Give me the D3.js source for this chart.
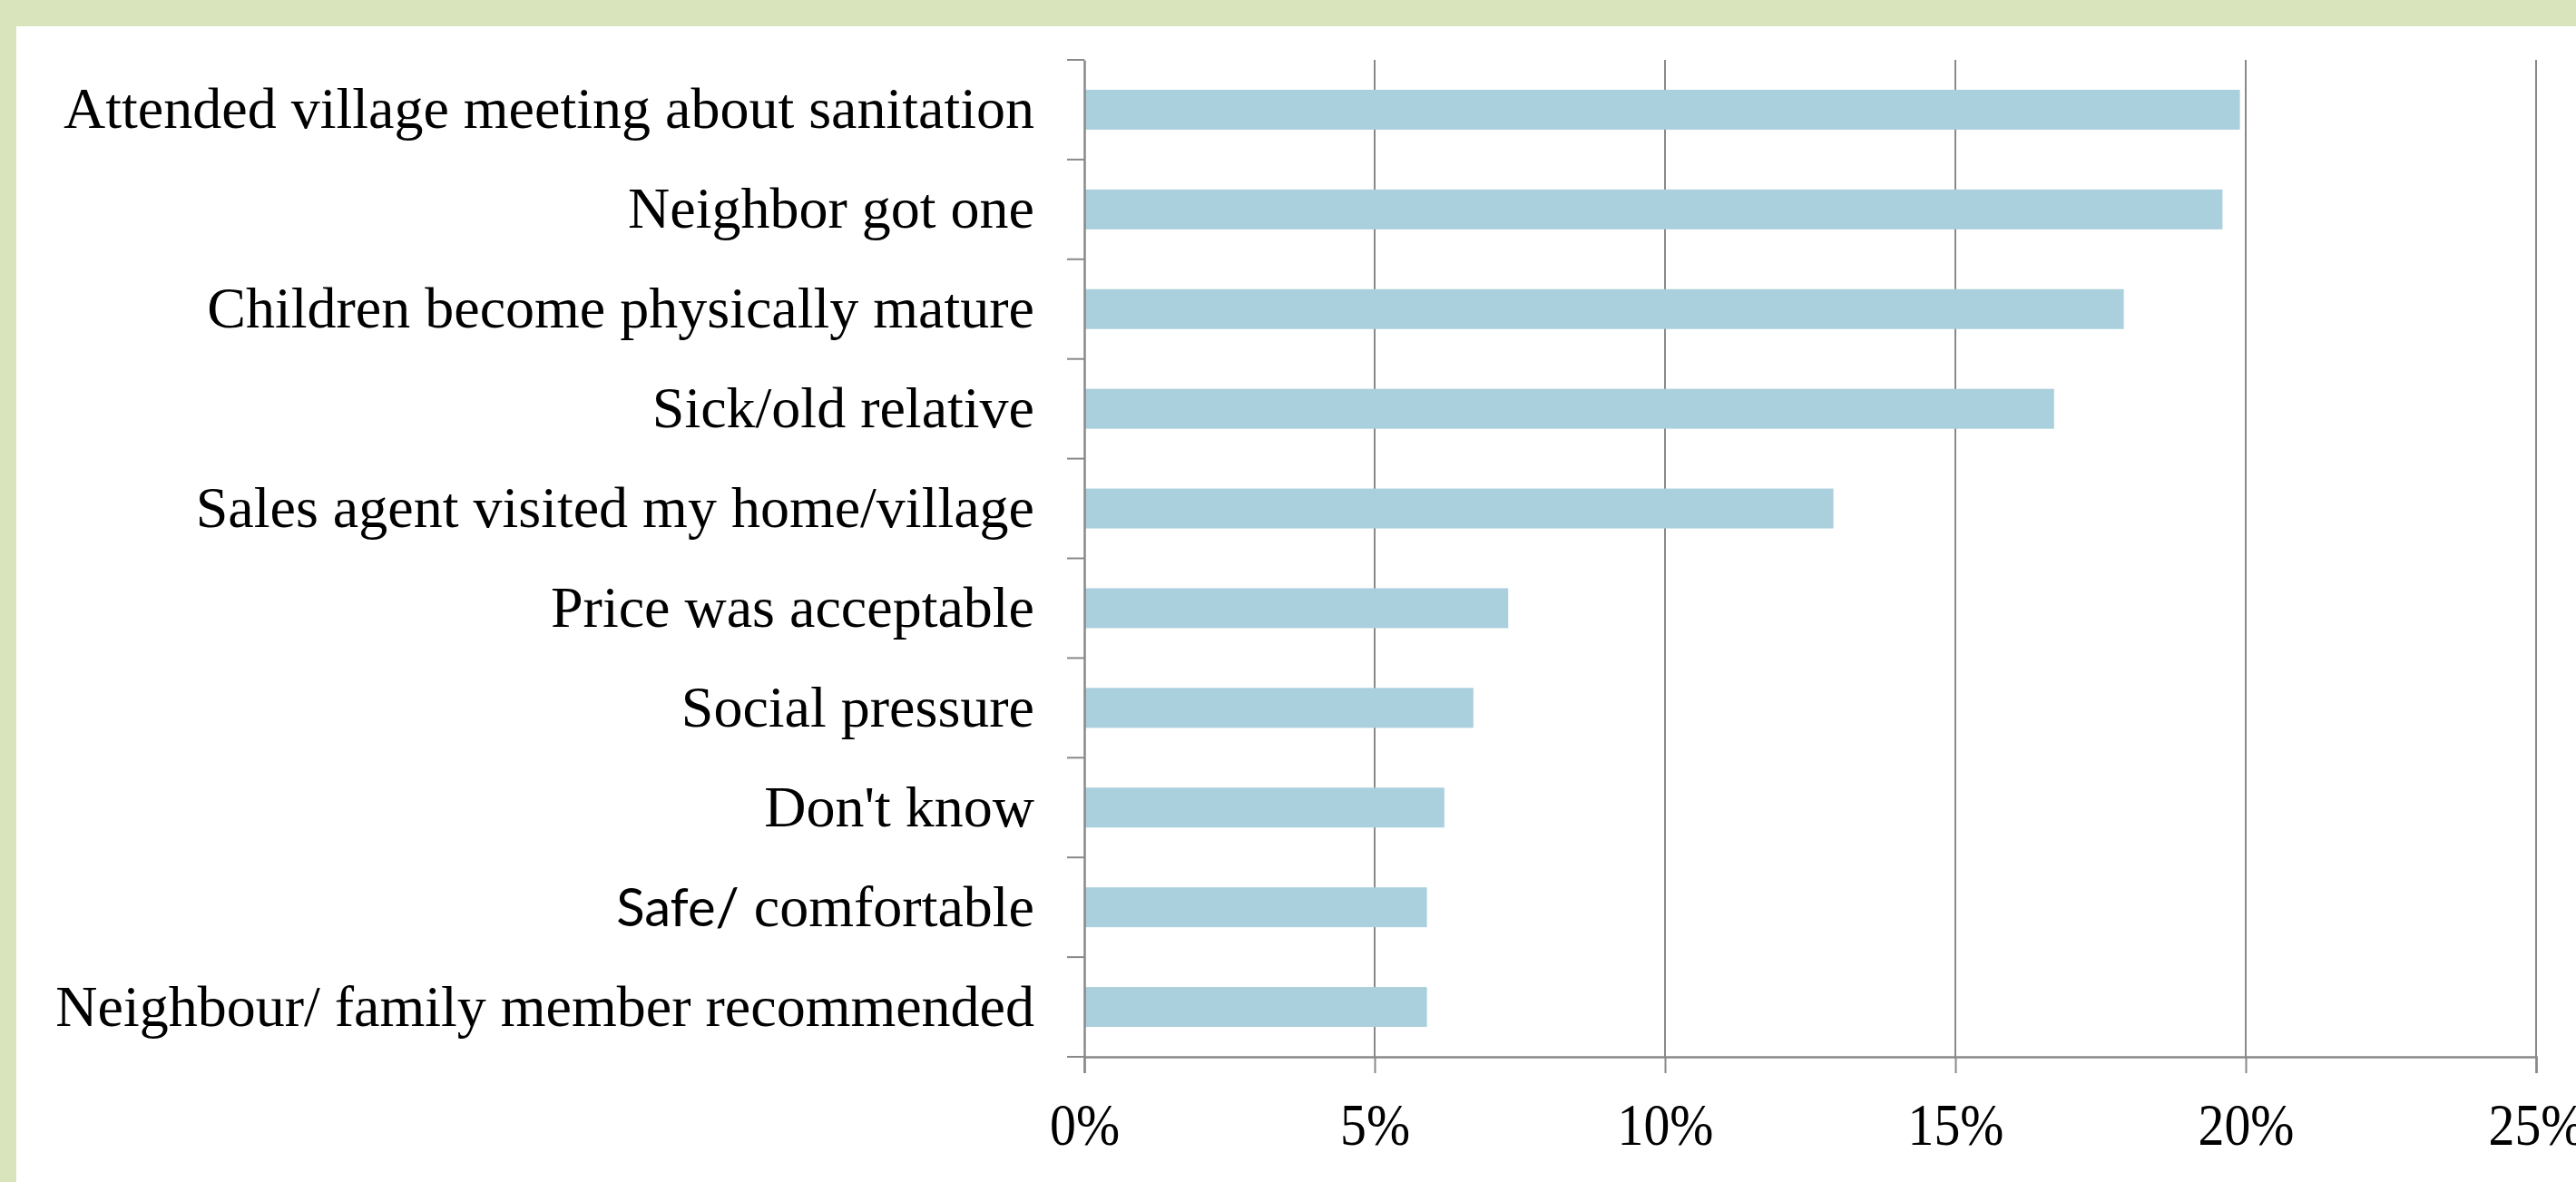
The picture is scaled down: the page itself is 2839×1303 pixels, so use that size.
<!DOCTYPE html>
<html>
<head>
<meta charset="utf-8">
<script src="https://cdn.jsdelivr.net/npm/d3@7"></script>
<style>
  body { margin: 0; background: #fff; }
  svg { display: block; }
</style>
</head>
<body>
<div id="chart"></div>
<script>
// categories top to bottom, values in percent
const categories = [
    "Attended village meeting about sanitation",
    "Neighbor got one",
    "Children become physically mature",
    "Sick/old relative",
    "Sales agent visited my home/village",
    "Price was acceptable",
    "Social pressure",
    "Don't know",
    "Safe/ comfortable",
    "Neighbour/ family member recommended"
];
const values = [19.9, 19.6, 17.9, 16.7, 12.9, 7.3, 6.7, 6.2, 5.9, 5.9];
const xTicks = [0, 5, 10, 15, 20, 25];

const width = 2839, height = 1303;
const gridColor = "#898989";
const barColor = "#aacfdd";

const svg = d3.select("#chart").append("svg")
    .attr("width", width)
    .attr("height", height);

// slide frame: green strip top and left
svg.append("rect").attr("width", width).attr("height", height).attr("fill", "#d9e4bd");
svg.append("rect").attr("x", 18).attr("y", 29)
    .attr("width", width - 18).attr("height", height - 29).attr("fill", "#fff");

const x = d3.scaleLinear().domain([0, 25]).range([1195, 2795]);
const y = d3.scaleBand().domain(categories).range([66, 1165])
    .paddingInner(0.6).paddingOuter(0.3);

// vertical gridlines
svg.append("g")
    .selectAll("line")
    .data(xTicks.slice(1))
    .join("line")
    .attr("x1", d => x(d)).attr("x2", d => x(d))
    .attr("y1", y.range()[0]).attr("y2", y.range()[1])
    .attr("stroke", gridColor)
    .attr("stroke-width", 2);

// bars
svg.append("g")
    .selectAll("rect")
    .data(values)
    .join("rect")
    .attr("x", x(0))
    .attr("y", (d, i) => y(categories[i]))
    .attr("width", d => x(d) - x(0))
    .attr("height", y.bandwidth())
    .attr("fill", barColor);

// category boundary ticks (Excel puts them between categories)
const bounds = d3.range(categories.length + 1).map(i => y.range()[0] + i * y.step());
svg.append("g")
    .selectAll("line")
    .data(bounds)
    .join("line")
    .attr("x1", x(0) - 19).attr("x2", x(0))
    .attr("y1", d => d).attr("y2", d => d)
    .attr("stroke", gridColor)
    .attr("stroke-width", 2);

// y axis labels
const yAxis = svg.append("g")
    .attr("transform", `translate(${x(0)},0)`)
    .call(d3.axisLeft(y).tickSize(0).tickPadding(55));
yAxis.select(".domain")
    .attr("stroke", gridColor)
    .attr("stroke-width", 2.5);
yAxis.selectAll("text")
    .attr("font-family", "'Liberation Serif', 'Times New Roman', serif")
    .attr("font-size", 64)
    .attr("fill", "#000");

// "Safe/" is set in a sans face in the original
yAxis.selectAll("text")
    .filter(d => d === "Safe/ comfortable")
    .each(function () {
        const t = d3.select(this).text("");
        t.append("tspan")
            .attr("font-family", "Lato, 'Open Sans', sans-serif")
            .attr("font-size", 58)
            .text("Safe/");
        t.append("tspan").text(" comfortable");
    });

// x axis
const xAxis = svg.append("g")
    .attr("transform", `translate(0,${y.range()[1]})`)
    .call(d3.axisBottom(x)
        .tickValues(xTicks)
        .tickSize(18)
        .tickPadding(32)
        .tickFormat(d => d + "%"));
xAxis.select(".domain")
    .attr("stroke", gridColor)
    .attr("stroke-width", 2.5);
xAxis.selectAll(".tick line")
    .attr("stroke", gridColor)
    .attr("stroke-width", 2);
xAxis.selectAll("text")
    .attr("font-family", "'Liberation Serif', 'Times New Roman', serif")
    .attr("font-size", 66)
    .attr("fill", "#000")
    .attr("transform", "scale(0.875,1)");
</script>
</body>
</html>
